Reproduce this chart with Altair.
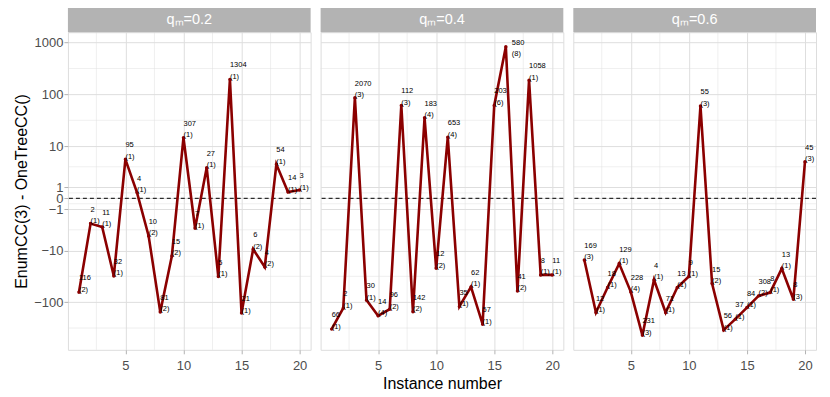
import altair as alt
import numpy as np
import pandas as pd

# ---------------- data ----------------
instance = list(range(1, 21))

panel_titles = ["qₘ=0.2", "qₘ=0.4", "qₘ=0.6"]

q02_diff = [-64.6, -2.74, -3.28, -31.2, 5.45, 0.51, -5.12, -153.8, -12.8, 14.6,
            -3.51, 3.63, -32.0, 195.0, -162.0, -9.45, -20.9, 4.29, 0.56, 0.75]
q02_num = [116, 2, 11, 32, 95, 4, 10, 81, 15, 307, 7, 27, 5, 1304, 21, 6, 4, 54, 14, 3]
q02_cnt = [2, 1, 1, 1, 1, 1, 2, 2, 2, 1, 1, 1, 1, 1, 1, 2, 2, 1, 1, 1]

q04_diff = [-330.0, -130.0, 86.5, -91.3, -183.0, -136.0, 61.4, -153.0, 35.6, -22.2,
            15.0, -121.0, -50.7, -265.0, 61.4, 832.0, -60.6, 188.0, -29.8, -29.8]
q04_num = [66, 2, 2070, 30, 14, 96, 112, 142, 183, 12, 653, 35, 62, 57, 203, 580, 41, 1058, 8, 11]
q04_cnt = [1, 1, 3, 1, 4, 2, 3, 2, 4, 2, 4, 1, 1, 1, 6, 8, 2, 1, 1, 1]

q06_diff = [-15.3, -158.0, -52.2, -18.0, -63.3, -435.0, -37.2, -158.0, -52.2, -32.0,
            59.6, -43.7, -345.0, -212.0, -127.0, -75.6, -65.2, -22.5, -87.5, 4.87]
q06_num = [169, 12, 18, 129, 228, 231, 4, 71, 13, 9, 55, 15, 56, 37, 84, 308, 8, 13, 8, 45]
q06_cnt = [3, 1, 1, 1, 4, 3, 1, 1, 1, 1, 3, 2, 1, 1, 1, 2, 1, 1, 3, 3]

y_breaks = [-100, -10, -1, 0, 1, 10, 100, 1000]
x_breaks = [5, 10, 15, 20]
x_minor = [2.5, 7.5, 12.5, 17.5]

# ---------------- pseudo-log (asinh) transform helpers ----------------
def ptrans(v):
    return float(np.arcsinh(np.asarray(v, dtype=float) / 2.0) / np.log(10))

major_t = [ptrans(v) for v in y_breaks]
minor_t = [(a + b) / 2 for a, b in zip(major_t[:-1], major_t[1:])]
minor_t = [major_t[0] - (major_t[1] - major_t[0]) / 2] + minor_t

T_EXPR = "(datum.y < 0 ? -1 : 1) * log(abs(datum.y) / 2 + sqrt(datum.y * datum.y / 4 + 1)) / LN10"
LABEL_EXPR = "format(round(pow(10, datum.value) - pow(10, -datum.value)), 'd')"

W, H = 243, 318
RED = "#8b0000"
GRID = "#dedede"
BORDER = "#b3b3b3"
FONT = "Liberation Sans"

Y_TOP = 3.198
xscale = alt.Scale(domain=[0.05, 20.95], nice=False, zero=False)
yscale = alt.Scale(domain=[-2.917, Y_TOP], nice=False, zero=False)

# labels that would run past the panel top are pushed below-right (repel-like)
PX_PER_T = H / (Y_TOP + 2.917)
PX_PER_X = W / 20.9
FLAG = f"datum.t + {16 / PX_PER_T} > {Y_TOP}"


def make_panel(idx, diff, num, cnt):
    first = idx == 0
    middle = idx == 1
    xaxis = alt.Axis(values=x_breaks, grid=True, gridColor=GRID, gridWidth=1,
                     tickColor=BORDER, tickSize=4, domain=False,
                     labelColor="#4d4d4d", labelFontSize=13, labelFont=FONT,
                     labelPadding=6,
                     title="Instance number" if middle else None,
                     titleFontSize=16, titleFontWeight="normal", titleColor="black",
                     titleFont=FONT, titlePadding=3)
    if first:
        yaxis = alt.Axis(values=major_t, labelExpr=LABEL_EXPR, grid=True, gridColor=GRID,
                         gridWidth=1, tickColor=BORDER, tickSize=4, domain=False,
                         labelColor="#4d4d4d", labelFontSize=13, labelFont=FONT,
                         labelPadding=1, labelOverlap=False,
                         title="EnumCC(3) - OneTreeCC()", titleFontSize=16,
                         titleFontWeight="normal", titleColor="black", titleFont=FONT,
                         titlePadding=4)
    else:
        yaxis = alt.Axis(values=major_t, grid=True, gridColor=GRID, gridWidth=1,
                         labels=False, ticks=False, domain=False, title=None)

    X = alt.X("x:Q", scale=xscale, axis=xaxis)
    Y = alt.Y("t:Q", scale=yscale, axis=yaxis)
    XL = alt.X("xl:Q", scale=xscale, axis=xaxis)
    YN = alt.Y("tn:Q", scale=yscale, axis=yaxis)
    YC = alt.Y("tc:Q", scale=yscale, axis=yaxis)

    df = pd.DataFrame({
        "x": instance,
        "y": diff,
        "num": [str(v) for v in num],
        "cnt": ["(" + str(v) + ")" for v in cnt],
    })

    base = alt.Chart(df).transform_calculate(t=T_EXPR)
    lab_base = base.transform_calculate(
        xl=f"({FLAG}) ? datum.x + {6 / PX_PER_X} : datum.x",
        tn=f"({FLAG}) ? datum.t - {10.6 / PX_PER_T} : datum.t",
        tc=f"({FLAG}) ? datum.t - {9.5 / PX_PER_T} : datum.t",
    )

    minor_x = alt.Chart(pd.DataFrame({"x": x_minor})).mark_rule(
        color=GRID, strokeWidth=0.5).encode(x=X)
    minor_y = alt.Chart(pd.DataFrame({"t": minor_t})).mark_rule(
        color=GRID, strokeWidth=0.5).encode(y=Y)
    zero = alt.Chart(pd.DataFrame({"t": [0.0]})).mark_rule(
        color="black", strokeWidth=1, strokeDash=[4, 3]).encode(y=Y)

    line = base.mark_line(color=RED, strokeWidth=2.6).encode(x=X, y=Y, order="x:Q")
    pts = base.mark_circle(color=RED, size=12, opacity=1).encode(x=X, y=Y)
    lab_num = lab_base.mark_text(align="left", baseline="middle", dx=0, dy=-14,
                                 fontSize=7.5, font=FONT, color="black").encode(
        x=XL, y=YN, text="num:N")
    lab_cnt = lab_base.mark_text(align="left", baseline="middle", dx=0, dy=-2.5,
                                 fontSize=7.5, font=FONT, color="black").encode(
        x=XL, y=YC, text="cnt:N")

    strip_df = pd.DataFrame({"label": [panel_titles[idx]]})
    strip = alt.Chart(strip_df).mark_rect(color=BORDER).encode(
        x=alt.value(0), x2=alt.value(W), y=alt.value(-25), y2=alt.value(0))
    strip_txt = alt.Chart(strip_df).mark_text(
        color="white", fontSize=14.5, font=FONT, baseline="middle", align="center").encode(
        x=alt.value(W / 2), y=alt.value(-12.5), text="label:N")

    return alt.layer(minor_x, minor_y, zero, line, pts, lab_num, lab_cnt, strip, strip_txt
                     ).properties(width=W, height=H)


panels = [
    make_panel(0, q02_diff, q02_num, q02_cnt),
    make_panel(1, q04_diff, q04_num, q04_cnt),
    make_panel(2, q06_diff, q06_num, q06_cnt),
]

chart = alt.hconcat(*panels, spacing=8).properties(
    padding={"left": 5, "top": -2, "right": 5, "bottom": 0}
).configure_view(
    stroke=BORDER, strokeWidth=1
).configure(background="white")

chart.save("out.html", embed_options={"renderer": "svg", "actions": False})
